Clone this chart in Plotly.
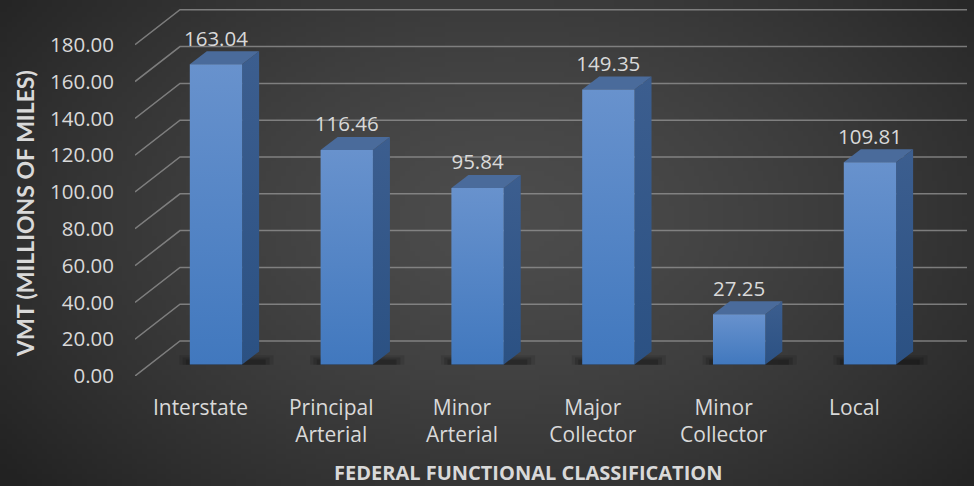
import base64, struct, zlib, math
import plotly.graph_objects as go

# ---------------- data ----------------
categories = ["Interstate", "Principal<br>Arterial", "Minor<br>Arterial",
              "Major<br>Collector", "Minor<br>Collector", "Local"]
vmt = [163.04, 116.46, 95.84, 149.35, 27.25, 109.81]
y_ticks = [0, 20, 40, 60, 80, 100, 120, 140, 160, 180]
x_title = "FEDERAL FUNCTIONAL CLASSIFICATION"
y_title = "VMT (MILLIONS OF MILES)"

# ---------------- projection constants (3D look) ----------------
X_MAX = 5.861      # right end of x axis (back wall)
Y_MAX = 201.6
BACK_DX, BACK_DY = 0.344, 19.0     # offset of back wall vs front plane
BAR_FX, BAR_FY = 0.119, 6.3        # offset of bar front face vs front plane
DEPTH_DX, DEPTH_DY = 0.13, 7.07    # bar depth
BAR_W = 0.4

TEXT = "#d9d9d9"
FONT = "Open Sans"

# ---------------- background gradient image ----------------
def make_bg(w=196, h=98):
    rows = []
    c_in, c_out = 0x4c, 0x22
    for j in range(h):
        row = bytearray([0])
        ny = j / (h - 1)
        for i in range(w):
            nx = i / (w - 1)
            d = math.sqrt(((nx - 0.52) / 0.66) ** 2 + ((ny - 0.45) / 0.85) ** 2)
            t = min(1.0, d) ** 1.4
            v = int(round(c_in + (c_out - c_in) * t))
            row += bytes([v, v, v])
        rows.append(bytes(row))
    raw = b"".join(rows)
    def chunk(tag, data):
        c = struct.pack(">I", len(data)) + tag + data
        return c + struct.pack(">I", zlib.crc32(tag + data) & 0xffffffff)
    png = b"\x89PNG\r\n\x1a\n" + chunk(b"IHDR", struct.pack(">IIBBBBB", w, h, 8, 2, 0, 0, 0)) \
        + chunk(b"IDAT", zlib.compress(raw, 9)) + chunk(b"IEND", b"")
    return "data:image/png;base64," + base64.b64encode(png).decode()

fig = go.Figure()

# ---------------- back wall gridlines + left diagonals ----------------
gx, gy = [], []
for t in y_ticks:
    gx += [-0.5, -0.5 + BACK_DX, X_MAX, None]
    gy += [t, t + BACK_DY, t + BACK_DY, None]
fig.add_trace(go.Scatter(x=gx, y=gy, mode="lines",
                         line=dict(color="rgba(150,150,150,0.75)", width=1.5),
                         hoverinfo="skip", showlegend=False))

# ---------------- bars ----------------
for i, v in enumerate(vmt):
    x0 = i + BAR_FX - BAR_W / 2
    x1 = i + BAR_FX + BAR_W / 2
    y0 = BAR_FY
    y1 = v + BAR_FY
    # soft shadow (layered)
    for k, a in enumerate([0.10, 0.14, 0.18]):
        ex_l = 0.08 - 0.025 * k
        ex_r = 0.11 - 0.03 * k
        sy0 = y0 - 0.2
        sy1 = y0 + 5.0 - 1.2 * k
        fig.add_trace(go.Scatter(
            x=[x0 - ex_l, x1 + DEPTH_DX + ex_r, x1 + DEPTH_DX + ex_r, x0 - ex_l],
            y=[sy0, sy0, sy1, sy1], mode="lines", fill="toself",
            fillcolor=f"rgba(0,0,0,{a})", line=dict(width=0),
            hoverinfo="skip", showlegend=False))
    # side face
    fig.add_trace(go.Scatter(
        x=[x1, x1 + DEPTH_DX, x1 + DEPTH_DX, x1, x1],
        y=[y0, y0 + DEPTH_DY, y1 + DEPTH_DY, y1, y0],
        mode="lines", fill="toself", line=dict(width=0),
        fillgradient=dict(type="vertical", colorscale=[[0, "#2b5183"], [1, "#3c5e8f"]]),
        hoverinfo="skip", showlegend=False))
    # top face
    fig.add_trace(go.Scatter(
        x=[x0, x1, x1 + DEPTH_DX, x0 + DEPTH_DX, x0],
        y=[y1, y1, y1 + DEPTH_DY, y1 + DEPTH_DY, y1],
        mode="lines", fill="toself", fillcolor="#4a6b9b", line=dict(width=0),
        hoverinfo="skip", showlegend=False))
    # front face
    fig.add_trace(go.Scatter(
        x=[x0, x1, x1, x0, x0],
        y=[y0, y0, y1, y1, y0],
        mode="lines", fill="toself", line=dict(width=0),
        fillgradient=dict(type="vertical", colorscale=[[0, "#4178be"], [1, "#6892cd"]]),
        hoverinfo="skip", showlegend=False))

# ---------------- data labels ----------------
fig.add_trace(go.Scatter(
    x=[i + BAR_FX for i in range(len(vmt))],
    y=[v + 19.2 for v in vmt],
    mode="text", text=[f"{v:.2f}" for v in vmt],
    textposition="middle center",
    textfont=dict(family=FONT, size=20.5, color=TEXT),
    hoverinfo="skip", showlegend=False))

# ---------------- layout ----------------
fig.update_layout(
    width=974, height=486, autosize=False,
    margin=dict(l=135, r=7, t=5, b=110),
    paper_bgcolor="#333333", plot_bgcolor="rgba(0,0,0,0)",
    showlegend=False,
    font=dict(family=FONT, color=TEXT),
    xaxis=dict(range=[-0.5, X_MAX], tickvals=list(range(len(categories))),
               ticktext=categories, showgrid=False, zeroline=False,
               showline=False, ticks="", ticklabelstandoff=17,
               tickfont=dict(family=FONT, size=21, color=TEXT), fixedrange=True),
    yaxis=dict(range=[0, Y_MAX], tickvals=y_ticks,
               ticktext=[f"{t:.2f}" for t in y_ticks], showgrid=False,
               zeroline=False, showline=False, ticks="", ticklabelstandoff=20,
               tickfont=dict(family=FONT, size=20.5, color=TEXT), fixedrange=True),
    images=[dict(source=make_bg(), xref="paper", yref="paper",
                 x=-135 / 832, y=1 + 5 / 371, sizex=974 / 832, sizey=486 / 371,
                 xanchor="left", yanchor="top", sizing="stretch", layer="below")],
    annotations=[
        dict(text=f"<b>{x_title}</b>", xref="paper", yref="paper",
             x=(528 - 135) / 832, y=-(472 - 376) / 371, xanchor="center",
             yanchor="middle", showarrow=False,
             font=dict(family=FONT, size=20, color=TEXT)),
        dict(text=f"<b>{y_title}</b>", xref="paper", yref="paper",
             x=(25 - 135) / 832, y=(376 - 214) / 371, xanchor="center",
             yanchor="middle", textangle=-90, showarrow=False,
             font=dict(family="Lato", size=23, color=TEXT)),
    ],
)

fig.write_html("out.html", config={"displayModeBar": False},
               post_script="document.body.style.margin='0';document.body.style.overflow='hidden';")
